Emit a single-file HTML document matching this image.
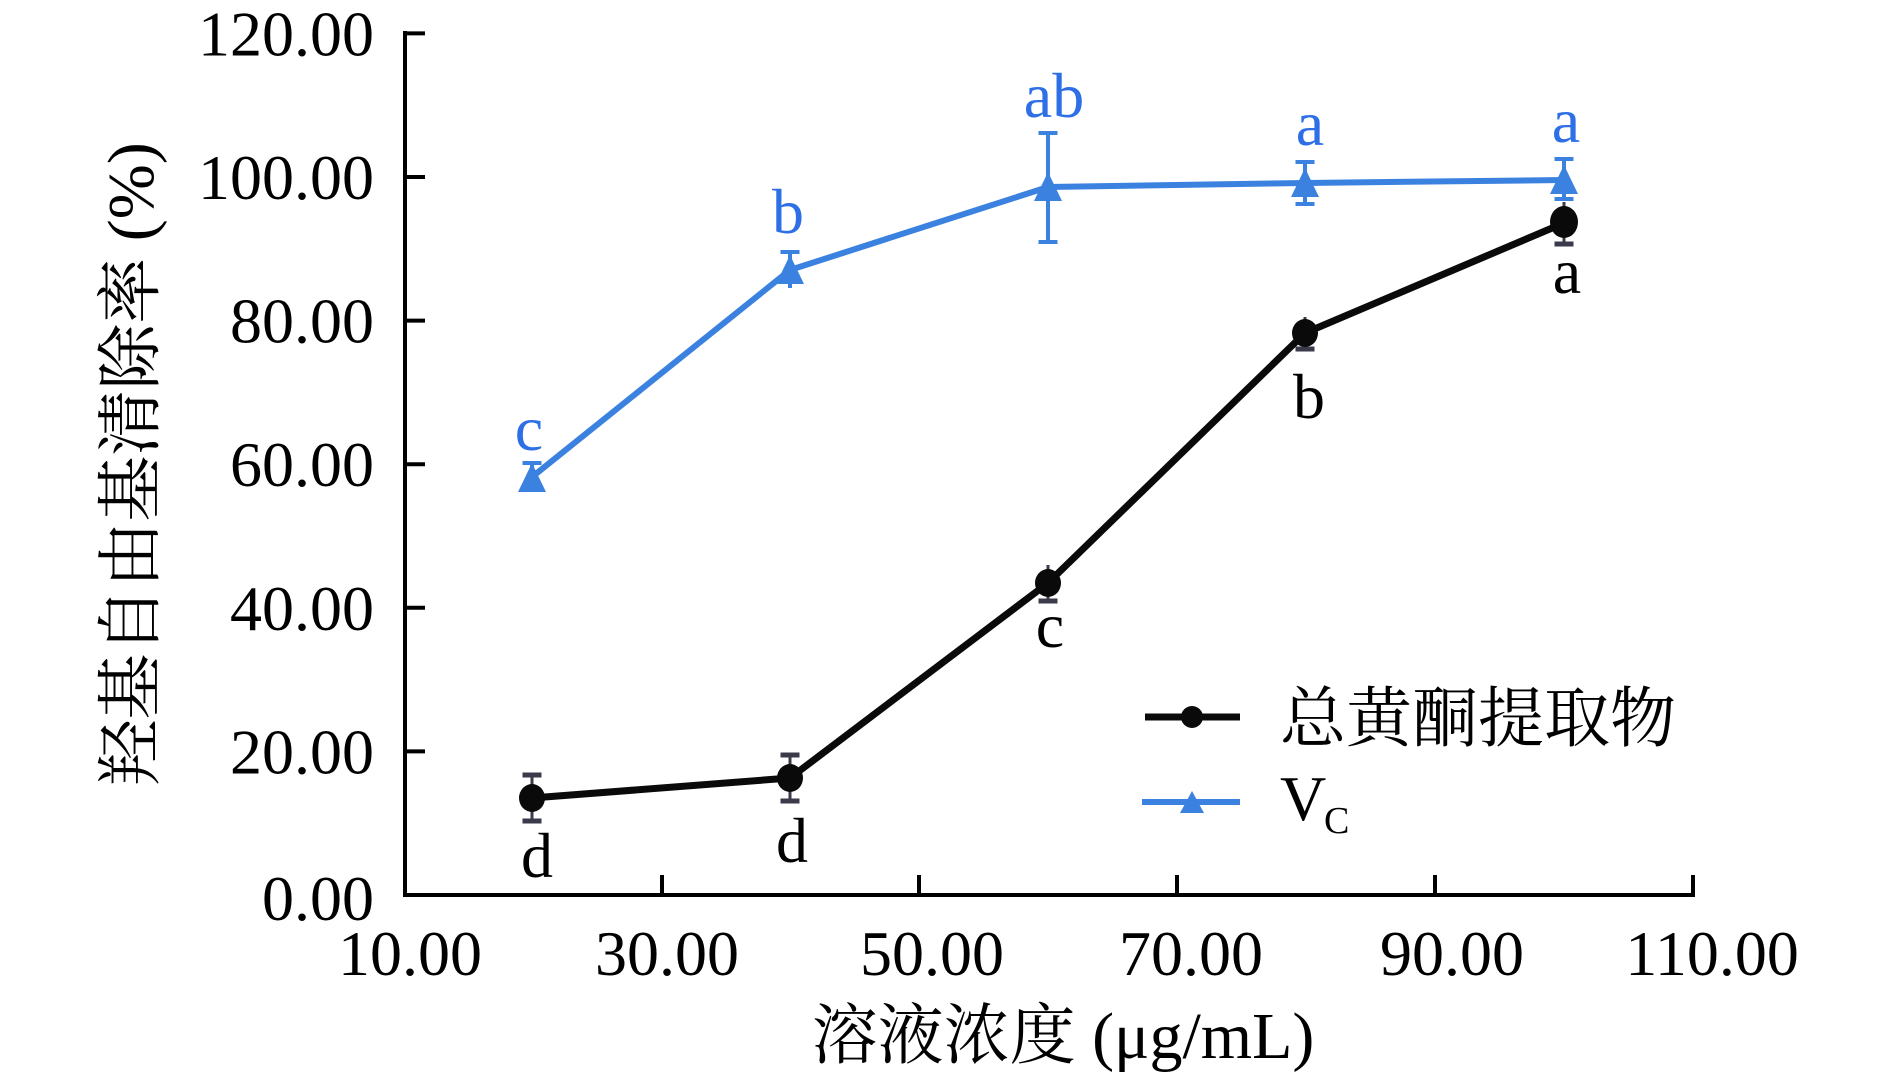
<!DOCTYPE html>
<html>
<head>
<meta charset="utf-8">
<style>
  html, body { margin: 0; padding: 0; background: #ffffff; }
  svg { display: block; }
  .num { font-family: "Liberation Serif", "Noto Serif CJK SC", serif; font-size: 64px; fill: #000; }
  .cjk { font-family: "Liberation Serif", "Noto Serif CJK SC", serif; font-size: 66px; fill: #000; }
  .lblb { font-family: "Liberation Serif", serif; font-size: 64px; fill: #2e6fe6; }
  .lblk { font-family: "Liberation Serif", serif; font-size: 64px; fill: #000; }
</style>
</head>
<body>
<svg width="1890" height="1079" viewBox="0 0 1890 1079" xmlns="http://www.w3.org/2000/svg">
  <rect x="0" y="0" width="1890" height="1079" fill="#ffffff"/>

  <!-- Axes -->
  <g stroke="#000" stroke-width="4" fill="none">
    <line x1="405" y1="31" x2="405" y2="897"/>
    <line x1="403" y1="895" x2="1695" y2="895"/>
    <!-- y ticks -->
    <line x1="405" y1="33.4" x2="425" y2="33.4"/>
    <line x1="405" y1="177" x2="425" y2="177"/>
    <line x1="405" y1="320.6" x2="425" y2="320.6"/>
    <line x1="405" y1="464.2" x2="425" y2="464.2"/>
    <line x1="405" y1="607.8" x2="425" y2="607.8"/>
    <line x1="405" y1="751.4" x2="425" y2="751.4"/>
    <!-- x ticks -->
    <line x1="662" y1="895" x2="662" y2="875"/>
    <line x1="919" y1="895" x2="919" y2="875"/>
    <line x1="1177" y1="895" x2="1177" y2="875"/>
    <line x1="1435" y1="895" x2="1435" y2="875"/>
    <line x1="1693" y1="897" x2="1693" y2="875"/>
  </g>

  <!-- Y tick labels -->
  <g class="num" text-anchor="end">
    <text x="374" y="55.5">120.00</text>
    <text x="374" y="199">100.00</text>
    <text x="374" y="342.6">80.00</text>
    <text x="374" y="486.2">60.00</text>
    <text x="374" y="629.8">40.00</text>
    <text x="374" y="773.4">20.00</text>
    <text x="374" y="920">0.00</text>
  </g>

  <!-- X tick labels -->
  <g class="num" text-anchor="middle">
    <text x="410" y="975">10.00</text>
    <text x="667" y="975">30.00</text>
    <text x="932" y="975">50.00</text>
    <text x="1191" y="975">70.00</text>
    <text x="1452" y="975">90.00</text>
    <text x="1712" y="975">110.00</text>
  </g>

  <!-- Axis titles -->
  <text class="cjk" x="1063" y="1058" text-anchor="middle">溶液浓度 (μg/mL)</text>
  <text class="cjk" transform="translate(153,464) rotate(-90)" x="0" y="0" text-anchor="middle">羟基自由基清除率 (%)</text>

  <!-- VC series (blue) -->
  <g stroke="#3b82e0" fill="none">
    <polyline points="532,477 790,270 1048,187 1305,183 1564,180" stroke-width="6" stroke-linejoin="round"/>
    <!-- error bars -->
    <g stroke-width="4">
      <line x1="532" y1="463" x2="532" y2="491"/>
      <line x1="522.5" y1="463" x2="541.5" y2="463"/>
      <line x1="790" y1="252" x2="790" y2="288"/>
      <line x1="780.5" y1="252" x2="799.5" y2="252"/>
      <line x1="1048" y1="133" x2="1048" y2="242"/>
      <line x1="1038.5" y1="133" x2="1057.5" y2="133"/>
      <line x1="1038.5" y1="242" x2="1057.5" y2="242"/>
      <line x1="1305" y1="162" x2="1305" y2="204"/>
      <line x1="1295.5" y1="162" x2="1314.5" y2="162"/>
      <line x1="1295.5" y1="204" x2="1314.5" y2="204"/>
      <line x1="1564" y1="159" x2="1564" y2="199"/>
      <line x1="1554.5" y1="159" x2="1573.5" y2="159"/>
      <line x1="1554.5" y1="199" x2="1573.5" y2="199"/>
    </g>
  </g>
  <g fill="#3b82e0">
    <polygon points="532,463 518,492 546,492"/>
    <polygon points="790,255 776,284 804,284"/>
    <polygon points="1048,172 1034,201 1062,201"/>
    <polygon points="1305,168 1291,197 1319,197"/>
    <polygon points="1564,165 1550,194 1578,194"/>
  </g>

  <!-- Total flavonoid series (black) -->
  <polyline points="532,798 790,778 1048,583 1305,333 1564,223" stroke="#0a0a0a" stroke-width="7" fill="none" stroke-linejoin="round"/>
  <g stroke="#3a3a4a" fill="none">
    <g stroke-width="3">
      <line x1="532" y1="775" x2="532" y2="821"/>
      <line x1="790" y1="755" x2="790" y2="801"/>
      <line x1="1048" y1="565" x2="1048" y2="601"/>
      <line x1="1305" y1="317" x2="1305" y2="349"/>
      <line x1="1564" y1="202" x2="1564" y2="244"/>
    </g>
    <g stroke-width="5">
      <line x1="522.5" y1="775" x2="541.5" y2="775"/>
      <line x1="522.5" y1="821" x2="541.5" y2="821"/>
      <line x1="780.5" y1="755" x2="799.5" y2="755"/>
      <line x1="780.5" y1="801" x2="799.5" y2="801"/>
      <line x1="1038.5" y1="601" x2="1057.5" y2="601"/>
      <line x1="1295.5" y1="349" x2="1314.5" y2="349"/>
      <line x1="1554.5" y1="244" x2="1573.5" y2="244"/>
    </g>
  </g>
  <g fill="#0a0a0a">
    <ellipse cx="532" cy="798" rx="13" ry="14"/>
    <ellipse cx="790" cy="778" rx="13" ry="14"/>
    <ellipse cx="1048" cy="583" rx="13" ry="14"/>
    <ellipse cx="1305" cy="333" rx="13" ry="14"/>
    <ellipse cx="1564" cy="222" rx="14" ry="16"/>
  </g>

  <!-- Significance labels -->
  <g class="lblb" text-anchor="middle">
    <text x="529" y="450">c</text>
    <text x="788" y="233">b</text>
    <text x="1054" y="117">ab</text>
    <text x="1310" y="145">a</text>
    <text x="1566" y="142">a</text>
  </g>
  <g class="lblk" text-anchor="middle">
    <text x="537" y="877">d</text>
    <text x="792" y="862">d</text>
    <text x="1050" y="647">c</text>
    <text x="1309" y="418">b</text>
    <text x="1567" y="293">a</text>
  </g>

  <!-- Legend -->
  <line x1="1145" y1="717" x2="1240" y2="717" stroke="#0a0a0a" stroke-width="7"/>
  <circle cx="1192" cy="717" r="11" fill="#0a0a0a"/>
  <text class="cjk" x="1280" y="741">总黄酮提取物</text>

  <line x1="1142" y1="802" x2="1240" y2="802" stroke="#3b82e0" stroke-width="6"/>
  <polygon points="1192,791 1180,813 1204,813" fill="#3b82e0"/>
  <text x="1280" y="820" style="font-family:'Liberation Serif',serif;font-size:64px;fill:#000;">V</text>
  <text x="1324" y="833" style="font-family:'Liberation Serif',serif;font-size:38px;fill:#000;">C</text>
</svg>
</body>
</html>
